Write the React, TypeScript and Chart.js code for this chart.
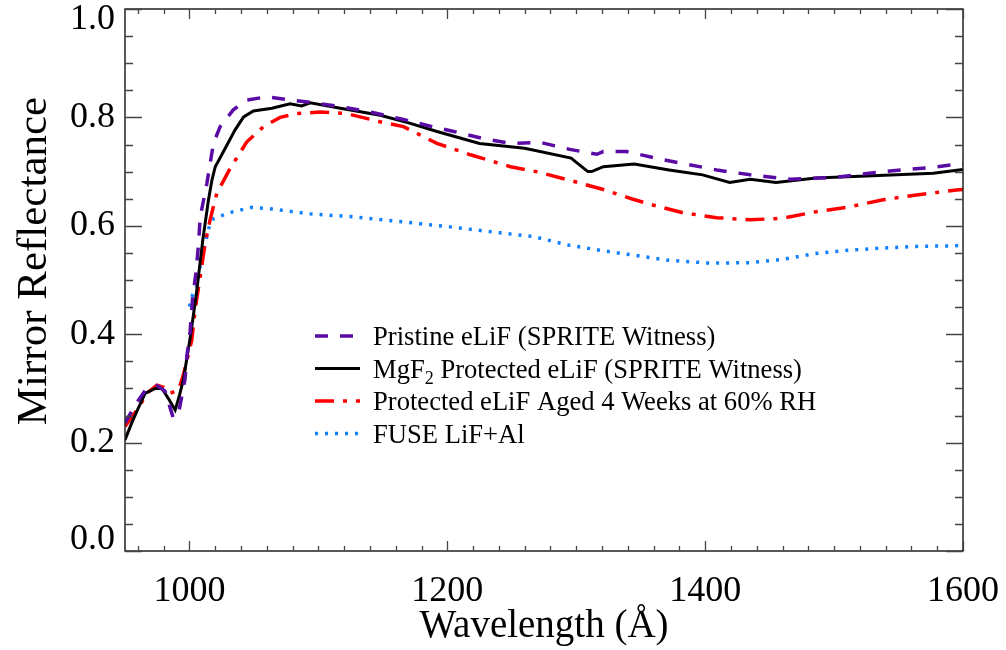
import React, { useEffect, useRef } from "react";
import { Chart, registerables } from "chart.js";

Chart.register(...registerables);

// ---- Data ----
const pristineWave = [950, 958, 966, 975, 981, 987.5, 992, 996.5, 998, 1000.5, 1002.3, 1005, 1007, 1008.3, 1013.5, 1018.6, 1023.8, 1034, 1044.5, 1060, 1078, 1096, 1117, 1142, 1166, 1190, 1205, 1228, 1249, 1272, 1295, 1316, 1321, 1339, 1365, 1385, 1409, 1435, 1466, 1499, 1538, 1577, 1600];
const pristineRefl = [0.236, 0.27, 0.297, 0.305, 0.295, 0.245, 0.26, 0.316, 0.36, 0.405, 0.463, 0.513, 0.565, 0.616, 0.678, 0.752, 0.783, 0.814, 0.832, 0.838, 0.832, 0.827, 0.82, 0.809, 0.796, 0.782, 0.774, 0.761, 0.752, 0.754, 0.741, 0.732, 0.737, 0.737, 0.723, 0.714, 0.703, 0.694, 0.686, 0.689, 0.7, 0.708, 0.715];

const protectedWave = [950, 955, 960, 965.6, 973.4, 978.6, 984, 988.9, 992, 995.3, 1001, 1005.7, 1010.4, 1014.7, 1017.4, 1020, 1026.4, 1035.4, 1042, 1049.6, 1064, 1078, 1087, 1093.6, 1117, 1148, 1170, 1192, 1225, 1249, 1260, 1296, 1309, 1312, 1321, 1345, 1372, 1380, 1398, 1419, 1435, 1455, 1486, 1525, 1577, 1600];
const protectedRefl = [0.205, 0.235, 0.262, 0.291, 0.3, 0.3, 0.28, 0.26, 0.285, 0.316, 0.4, 0.481, 0.575, 0.647, 0.684, 0.709, 0.737, 0.777, 0.801, 0.812, 0.817, 0.825, 0.821, 0.827, 0.817, 0.804, 0.79, 0.774, 0.752, 0.746, 0.743, 0.725, 0.7, 0.7, 0.709, 0.714, 0.703, 0.7, 0.694, 0.68, 0.686, 0.68, 0.688, 0.692, 0.697, 0.704];

const agedWave = [950, 960.5, 967, 974.7, 980, 985, 991.5, 995.3, 1001.8, 1004.4, 1008.3, 1012.2, 1016, 1021.2, 1031.6, 1044.5, 1057.4, 1070.3, 1083.3, 1101.3, 1122, 1147.8, 1166, 1192, 1218, 1249, 1269, 1295, 1321, 1344, 1360, 1383, 1409, 1435, 1460, 1486, 1512, 1538, 1564, 1595, 1600];
const agedRefl = [0.23, 0.264, 0.291, 0.306, 0.302, 0.291, 0.297, 0.325, 0.389, 0.445, 0.506, 0.568, 0.611, 0.66, 0.706, 0.755, 0.783, 0.8, 0.807, 0.81, 0.807, 0.792, 0.783, 0.752, 0.731, 0.709, 0.7, 0.684, 0.667, 0.649, 0.638, 0.624, 0.615, 0.611, 0.614, 0.626, 0.635, 0.648, 0.657, 0.666, 0.667];

const fuseWave = [1000, 1002, 1005.7, 1008.3, 1010.9, 1013.5, 1016, 1018.6, 1026.4, 1034, 1048.4, 1064, 1093.6, 1124.6, 1163, 1202, 1241, 1267, 1292.5, 1318, 1344, 1370, 1404, 1435, 1460, 1486, 1512, 1538, 1564, 1590, 1600];
const fuseRefl = [0.451, 0.47, 0.488, 0.525, 0.555, 0.58, 0.605, 0.613, 0.62, 0.626, 0.634, 0.631, 0.622, 0.617, 0.608, 0.598, 0.587, 0.58, 0.565, 0.555, 0.546, 0.537, 0.531, 0.532, 0.538, 0.549, 0.555, 0.559, 0.562, 0.563, 0.564];

const seriesLabels = [
  "Pristine eLiF (SPRITE Witness)",
  "MgF2 Protected eLiF (SPRITE Witness)",
  "Protected eLiF Aged 4 Weeks at 60% RH",
  "FUSE LiF+Al",
];

const xMajorTicks = [1000, 1200, 1400, 1600];
const yMajorTicks = [0, 0.2, 0.4, 0.6, 0.8, 1.0];
const xMinorStep = 20;
const yMinorStep = 0.05;

const xTitle = "Wavelength (Å)";
const yTitle = "Mirror Reflectance";

const FONT = "'Liberation Serif', 'Times New Roman', serif";

const toPoints = (xs: number[], ys: number[]) => xs.map((x, i) => ({ x, y: ys[i] }));

const zeroPad = (s: any) => {
  s.paddingTop = 0;
  s.paddingBottom = 0;
  s.paddingLeft = 0;
  s.paddingRight = 0;
};

const framePlugin = {
  id: "idlFrame",
  afterDraw(chart: any) {
    const { ctx, chartArea } = chart;
    const { left, right, top, bottom } = chartArea;
    const xs = chart.scales.x;
    const ys = chart.scales.y;
    ctx.save();
    ctx.strokeStyle = "#222";
    ctx.lineWidth = 1.5;
    ctx.strokeRect(left, top, right - left, bottom - top);
    ctx.lineWidth = 1.3;
    ctx.strokeStyle = "#444";
    // x ticks
    const nx = Math.round((xs.max - xs.min) / xMinorStep);
    const x0 = Math.ceil(xs.min / xMinorStep) * xMinorStep;
    for (let i = 0; i <= nx; i++) {
      const v = x0 + i * xMinorStep;
      if (v > xs.max) break;
      const px = Math.round(xs.getPixelForValue(v)) + 0.5;
      const major = xMajorTicks.includes(v);
      const len = major ? 10 : 5;
      ctx.beginPath();
      ctx.moveTo(px, bottom);
      ctx.lineTo(px, bottom - len);
      ctx.moveTo(px, top);
      ctx.lineTo(px, top + len);
      ctx.stroke();
    }
    // y ticks
    const ny = Math.round((ys.max - ys.min) / yMinorStep);
    for (let i = 0; i <= ny; i++) {
      const v = ys.min + i * yMinorStep;
      const py = Math.round(ys.getPixelForValue(v)) + 0.5;
      const major = yMajorTicks.some((t) => Math.abs(t - v) < 1e-6);
      const len = major ? 17 : 8;
      ctx.beginPath();
      ctx.moveTo(left, py);
      ctx.lineTo(left + len, py);
      ctx.moveTo(right, py);
      ctx.lineTo(right - len, py);
      ctx.stroke();
    }
    // y tick labels (edge labels kept inside the frame height, as in the original)
    ctx.fillStyle = "#000";
    ctx.font = `36px ${FONT}`;
    ctx.textAlign = "right";
    ctx.textBaseline = "middle";
    yMajorTicks.forEach((v) => {
      const py = ys.getPixelForValue(v);
      const cy = Math.min(Math.max(py, top + 11), bottom - 11);
      ctx.fillText(v.toFixed(1), left - 10, cy);
    });

    // axis titles
    ctx.textAlign = "center";
    ctx.textBaseline = "alphabetic";
    ctx.font = `39px ${FONT}`;
    ctx.fillText(xTitle, (left + right) / 2, 637);
    ctx.save();
    ctx.font = `43px ${FONT}`;
    ctx.translate(46, 261);
    ctx.rotate(-Math.PI / 2);
    ctx.fillText(yTitle, 0, 0);
    ctx.restore();

    // legend
    const lx0 = left + 190;
    const lx1 = left + 235;
    const tx = left + 248;
    const baseY = top + 336;
    const dy = 32.5;
    ctx.textAlign = "left";
    chart.data.datasets.forEach((ds: any, i: number) => {
      const by = baseY + i * dy;
      const ly = by - 9;
      ctx.save();
      ctx.strokeStyle = ds.borderColor;
      ctx.lineWidth = ds.borderWidth;
      ctx.setLineDash(ds.borderDash || []);
      ctx.lineCap = "butt";
      ctx.beginPath();
      ctx.moveTo(lx0, ly);
      ctx.lineTo(lx1, ly);
      ctx.stroke();
      ctx.restore();
      ctx.fillStyle = "#000";
      ctx.font = `26.6px ${FONT}`;
      const label = seriesLabels[i];
      if (label.startsWith("MgF2")) {
        const head = "MgF";
        ctx.fillText(head, tx, by);
        let w = ctx.measureText(head).width;
        ctx.font = `18px ${FONT}`;
        ctx.fillText("2", tx + w, by + 6);
        w += ctx.measureText("2").width;
        ctx.font = `26.6px ${FONT}`;
        ctx.fillText(label.slice(4), tx + w, by);
      } else {
        ctx.fillText(label, tx, by);
      }
    });
    ctx.restore();
  },
};

export default function App() {
  const ref = useRef<HTMLCanvasElement | null>(null);
  useEffect(() => {
    if (!ref.current) return;
    const chart = new Chart(ref.current, {
      type: "line",
      data: {
        datasets: [
          {
            label: seriesLabels[0],
            data: toPoints(pristineWave, pristineRefl),
            borderColor: "#5a0aa5",
            borderWidth: 3.5,
            borderDash: [13, 12],
            pointRadius: 0,
            tension: 0,
            fill: false,
          },
          {
            label: seriesLabels[1],
            data: toPoints(protectedWave, protectedRefl),
            borderColor: "#000000",
            borderWidth: 3,
            pointRadius: 0,
            tension: 0,
            fill: false,
          },
          {
            label: seriesLabels[2],
            data: toPoints(agedWave, agedRefl),
            borderColor: "#ff0000",
            borderWidth: 3.5,
            borderDash: [19, 9, 4, 9],
            pointRadius: 0,
            tension: 0,
            fill: false,
          },
          {
            label: seriesLabels[3],
            data: toPoints(fuseWave, fuseRefl),
            borderColor: "#1080ff",
            borderWidth: 3.5,
            borderDash: [3, 7],
            pointRadius: 0,
            tension: 0,
            fill: false,
          },
        ],
      },
      options: {
        animation: false,
        responsive: false,
        devicePixelRatio: 1,
        layout: { autoPadding: false, padding: { top: 9, right: 43, left: 0, bottom: 0 } },
        plugins: { legend: { display: false }, tooltip: { enabled: false } },
        scales: {
          x: {
            type: "linear",
            min: 950,
            max: 1600,
            grid: { display: false, drawTicks: false, tickLength: 0 },
            border: { display: false },
            afterBuildTicks: (s: any) => {
              s.ticks = xMajorTicks.map((v) => ({ value: v }));
            },
            afterFit: (s: any) => {
              s.height = 99;
              zeroPad(s);
            },
            ticks: {
              color: "#000",
              padding: 19,
              maxRotation: 0,
              autoSkip: false,
              font: { family: FONT, size: 36 },
              callback: (v: any) => String(v),
            },
          },
          y: {
            type: "linear",
            min: 0,
            max: 1,
            grid: { display: false, drawTicks: false, tickLength: 0 },
            border: { display: false },
            afterBuildTicks: (s: any) => {
              s.ticks = yMajorTicks.map((v) => ({ value: v }));
            },
            afterFit: (s: any) => {
              s.width = 125;
              zeroPad(s);
            },
            ticks: {
              display: false,
              font: { family: FONT, size: 36 },
            },
          },
        },
      },
      plugins: [framePlugin],
    });
    return () => chart.destroy();
  }, []);
  return (
    <div style={{ position: "absolute", left: 0, top: 0, width: 1006, height: 650, background: "#fff" }}>
      <canvas ref={ref} width={1006} height={650} />
    </div>
  );
}
